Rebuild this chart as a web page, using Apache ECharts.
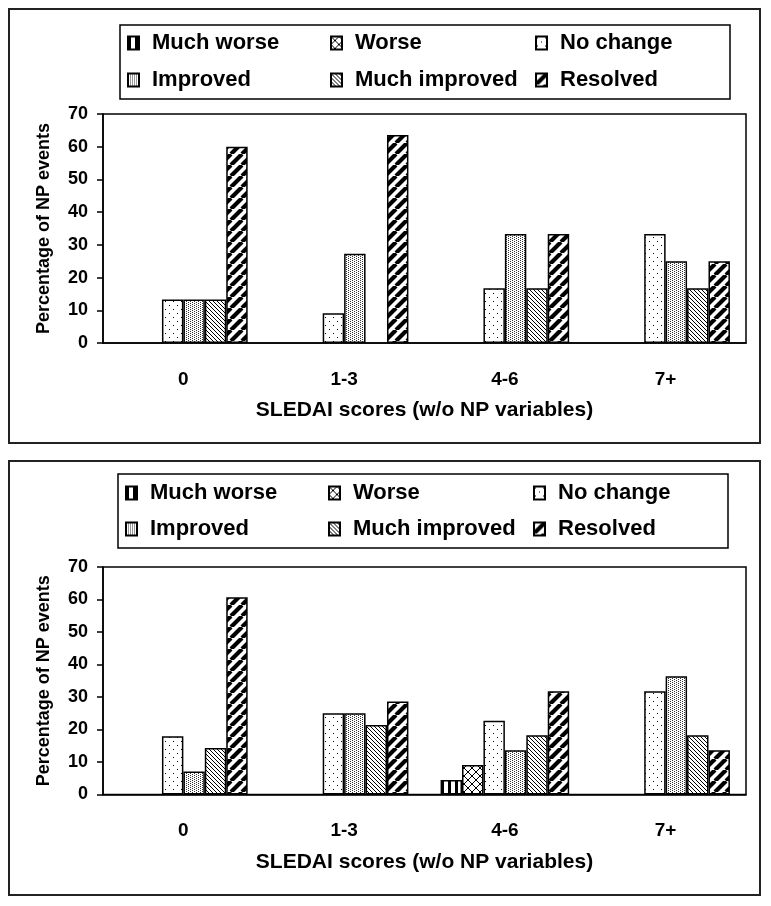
<!DOCTYPE html>
<html><head><meta charset="utf-8">
<script src="https://cdn.jsdelivr.net/npm/echarts@6/dist/echarts.min.js"></script>
<style>html,body{margin:0;padding:0;background:#fff;}#c{width:771px;height:906px;}</style>
</head><body><div id="c"></div>
<script>
const categories = ['0', '1-3', '4-6', '7+'];
const seriesNames = ['Much worse', 'Worse', 'No change', 'Improved', 'Much improved', 'Resolved'];
const yTicks = [0, 10, 20, 30, 40, 50, 60, 70];
const xTitle = 'SLEDAI scores (w/o NP variables)';
const yTitle = 'Percentage of NP events';

// Top panel values (%)
const topMuchWorse    = [0, 0, 0, 0];
const topWorse        = [0, 0, 0, 0];
const topNoChange     = [13.3, 9.1, 16.7, 33.3];
const topImproved     = [13.3, 27.3, 33.3, 25.0];
const topMuchImproved = [13.3, 0, 16.7, 16.7];
const topResolved     = [60.0, 63.6, 33.3, 25.0];

// Bottom panel values (%)
const botMuchWorse    = [0, 0, 4.5, 0];
const botWorse        = [0, 0, 9.1, 0];
const botNoChange     = [17.9, 25.0, 22.7, 31.8];
const botImproved     = [7.1, 25.0, 13.6, 36.4];
const botMuchImproved = [14.3, 21.4, 18.2, 18.2];
const botResolved     = [60.7, 28.6, 31.8, 13.6];

const topData = [topMuchWorse, topWorse, topNoChange, topImproved, topMuchImproved, topResolved];
const botData = [botMuchWorse, botWorse, botNoChange, botImproved, botMuchImproved, botResolved];

const FONT = "'Liberation Sans', Arial, sans-serif";

function tile(w, h, draw) {
  const c = document.createElement('canvas');
  c.width = w; c.height = h;
  const g = c.getContext('2d');
  g.fillStyle = '#fff'; g.fillRect(0, 0, w, h);
  g.fillStyle = '#000'; g.strokeStyle = '#000';
  draw(g, w, h);
  return c;
}
const patterns = {
  'Much worse': tile(7, 1, g => { g.fillRect(0, 0, 3, 1); }),
  'Worse': tile(8, 8, g => { for (let i = 0; i < 8; i++) { g.fillRect(i, i, 1, 1); g.fillRect(7 - i, i, 1, 1); } }),
  'No change': tile(8, 8, g => { g.fillRect(1, 1, 1, 1); g.fillRect(5, 5, 1, 1); }),
  'Improved': tile(4, 2, g => { g.fillStyle = '#333'; g.fillRect(0, 0, 1, 1); g.fillRect(2, 1, 1, 1); }),
  'Much improved': tile(4, 4, g => { for (let i = 0; i < 4; i++) g.fillRect(i, i, 1, 1); }),
  'Resolved': tile(11, 11, g => {
    g.lineWidth = 4.2; g.beginPath();
    for (let k = -1; k <= 1; k++) { g.moveTo(k * 11, 11); g.lineTo(k * 11 + 11, 0); }
    g.stroke();
  })
};

function mkSeries(name, data, idx) {
  return {
    name: name, type: 'bar', xAxisIndex: idx, yAxisIndex: idx,
    barGap: '0%', barCategoryGap: '20%',
    data: data.map(v => (v === 0 ? '-' : v)),
    itemStyle: { color: { image: patterns[name], repeat: 'repeat' }, borderColor: '#000', borderWidth: 1.5 },
    emphasis: { disabled: true }
  };
}

const series = [];
seriesNames.forEach((n, i) => series.push(mkSeries(n, topData[i], 0)));
seriesNames.forEach((n, i) => series.push(mkSeries(n, botData[i], 1)));

// legend layout: columns (icon left x) and rows (center y) per panel
const legendOrder = [['Much worse', 'Worse', 'No change'], ['Improved', 'Much improved', 'Resolved']];
const legendCols = [[127, 330, 535], [125, 328, 533]];
const legendRows = [[43, 80], [493, 529]];
const legends = [];
for (let p = 0; p < 2; p++) {
  for (let r = 0; r < 2; r++) {
    for (let c = 0; c < 3; c++) {
      legends.push({
        data: [legendOrder[r][c]], left: legendCols[p][c], top: legendRows[p][r] - 12,
        orient: 'horizontal', padding: 0, itemWidth: 11, itemHeight: 13, icon: 'rect',
        selectedMode: false,
        textStyle: { fontSize: 22, fontWeight: 'bold', color: '#000', fontFamily: FONT, lineHeight: 24, padding: [0, 0, 0, 8] }
      });
    }
  }
}

function xAx(i) {
  return {
    type: 'category', gridIndex: i, data: categories,
    axisLine: { lineStyle: { color: '#000', width: 1.5 } },
    axisTick: { length: 6, lineStyle: { color: '#000', width: 1.5 } },
    axisLabel: { fontSize: 19, fontWeight: 'bold', color: '#000', margin: 27, fontFamily: FONT },
    name: xTitle, nameLocation: 'middle', nameGap: 57,
    nameTextStyle: { fontSize: 21, fontWeight: 'bold', color: '#000', fontFamily: FONT }
  };
}
function yAx(i) {
  return {
    type: 'value', gridIndex: i, min: yTicks[0], max: yTicks[yTicks.length - 1], interval: yTicks[1] - yTicks[0],
    axisLine: { show: true, lineStyle: { color: '#000', width: 1.5 } },
    axisTick: { show: true, length: 6, lineStyle: { color: '#000', width: 1.5 } },
    splitLine: { show: false },
    axisLabel: { fontSize: 18, fontWeight: 'bold', color: '#000', margin: 15, fontFamily: FONT },
    name: yTitle, nameLocation: 'middle', nameGap: 50,
    nameTextStyle: { fontSize: 18, fontWeight: 'bold', color: '#000', fontFamily: FONT }
  };
}

const chart = echarts.init(document.getElementById('c'), null, { renderer: 'canvas' });
chart.setOption({
  animation: false,
  backgroundColor: '#fff',
  textStyle: { fontFamily: FONT },
  grid: [
    { left: 103, width: 643, top: 114, height: 229, show: true, borderColor: '#000', borderWidth: 1.5, backgroundColor: 'transparent' },
    { left: 103, width: 643, top: 567, height: 227.5, show: true, borderColor: '#000', borderWidth: 1.5, backgroundColor: 'transparent' }
  ],
  xAxis: [xAx(0), xAx(1)],
  yAxis: [yAx(0), yAx(1)],
  legend: legends,
  graphic: [
    { type: 'rect', shape: { x: 9, y: 9, width: 751, height: 434 }, style: { fill: 'none', stroke: '#222', lineWidth: 2 }, silent: true, z: -1 },
    { type: 'rect', shape: { x: 9, y: 461, width: 751, height: 434 }, style: { fill: 'none', stroke: '#222', lineWidth: 2 }, silent: true, z: -1 },
    { type: 'rect', shape: { x: 120, y: 25, width: 610, height: 74 }, style: { fill: 'none', stroke: '#000', lineWidth: 1.5 }, silent: true },
    { type: 'rect', shape: { x: 118, y: 474, width: 610, height: 74 }, style: { fill: 'none', stroke: '#000', lineWidth: 1.5 }, silent: true }
  ],
  series: series
});
</script>
</body></html>
